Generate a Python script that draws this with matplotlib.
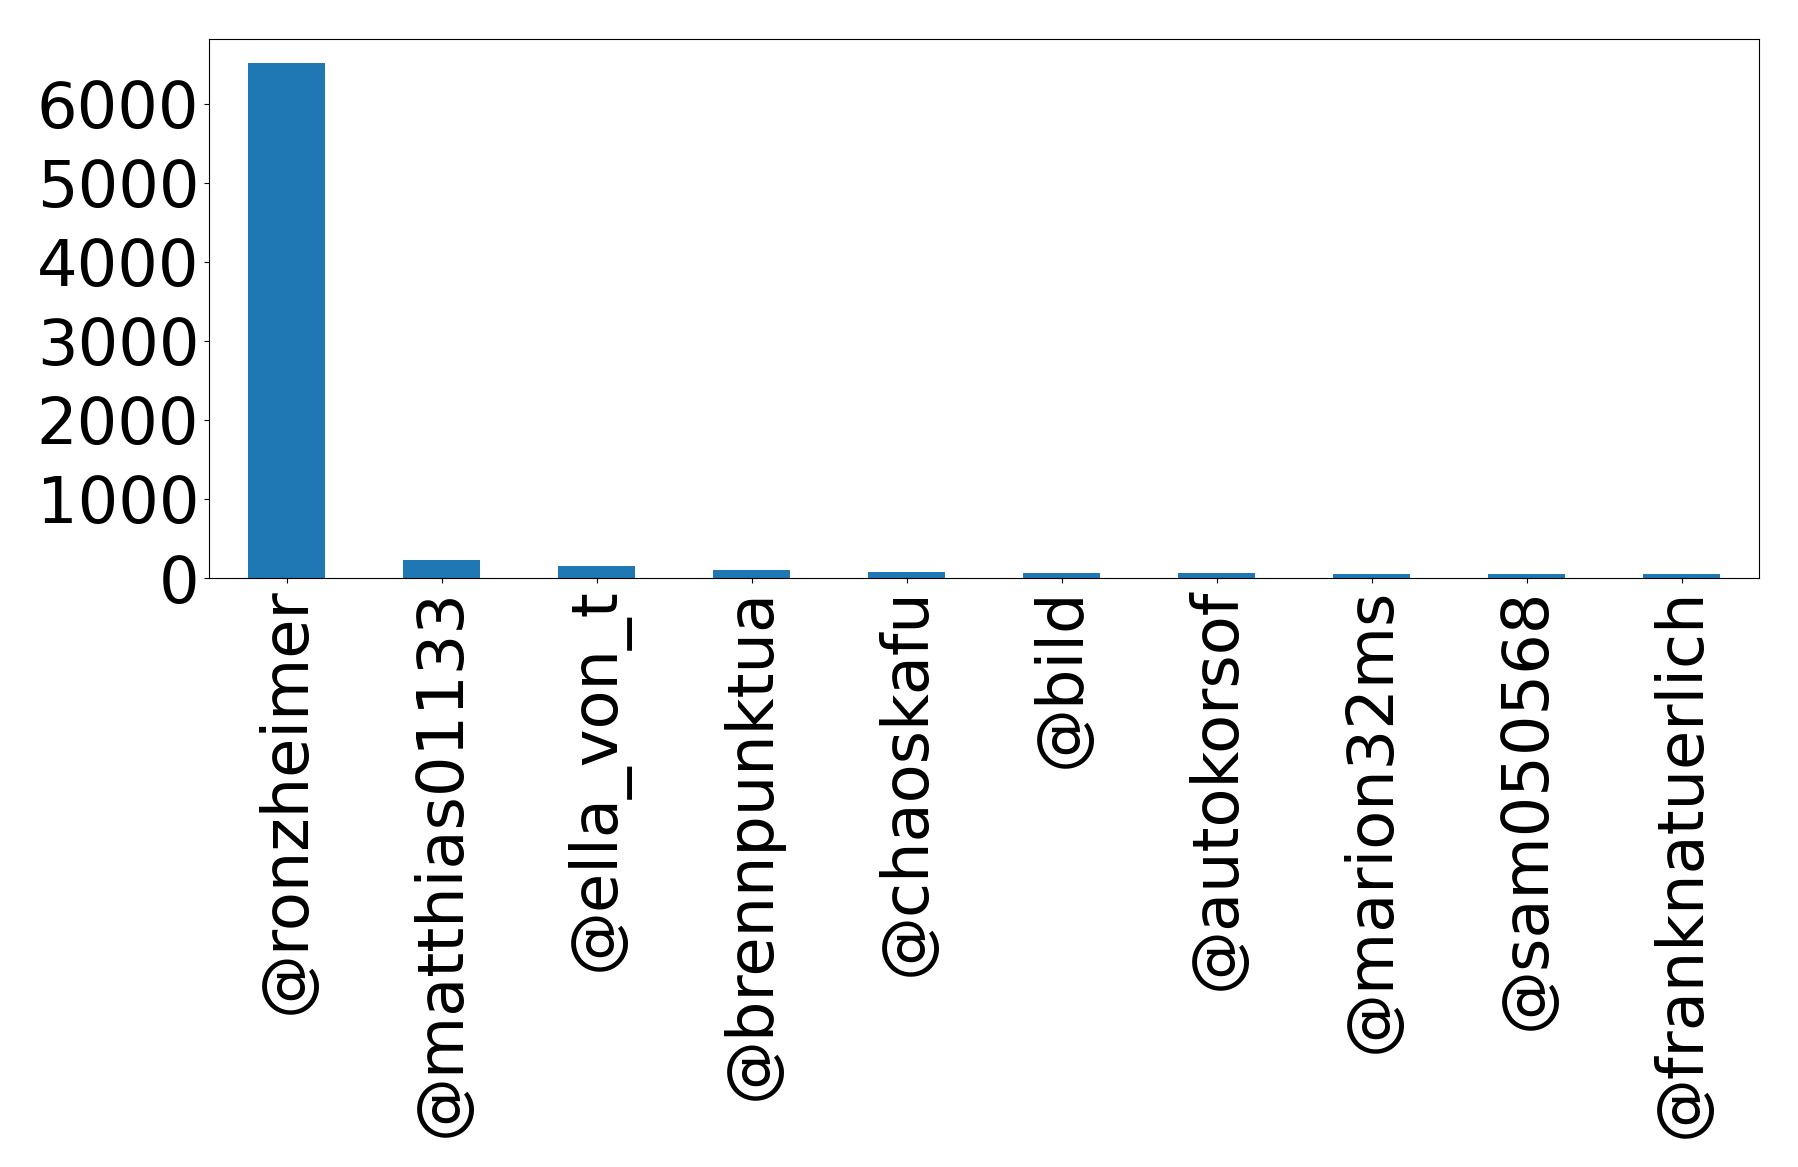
import matplotlib
matplotlib.use("Agg")
import matplotlib.pyplot as plt

# mention counts per account
accounts = ["@ronzheimer", "@matthias01133", "@ella_von_t", "@brennpunktua",
            "@chaoskafu", "@bild", "@autokorsof", "@marion32ms",
            "@sam050568", "@franknatuerlich"]
counts = [6520, 230, 155, 105, 80, 67, 67, 54, 54, 54]
yticks = [0, 1000, 2000, 3000, 4000, 5000, 6000]


def main():
    fig = plt.figure(figsize=(17.98, 11.67), dpi=100)
    ax = fig.add_axes([209 / 1798, 1 - 578 / 1167, (1759 - 209) / 1798, (578 - 39) / 1167])
    ax.bar(range(len(accounts)), counts, width=0.5, color="#1f77b4")
    ax.set_xlim(-0.5, len(accounts) - 0.5)
    ax.set_ylim(0, 6820)
    ax.set_yticks(yticks)
    ax.set_xticks(range(len(accounts)))
    ax.set_xticklabels(accounts, rotation=90)
    ax.tick_params(axis="both", labelsize=46)
    fig.savefig("out.png", dpi=100)


if __name__ == "__main__":
    main()
